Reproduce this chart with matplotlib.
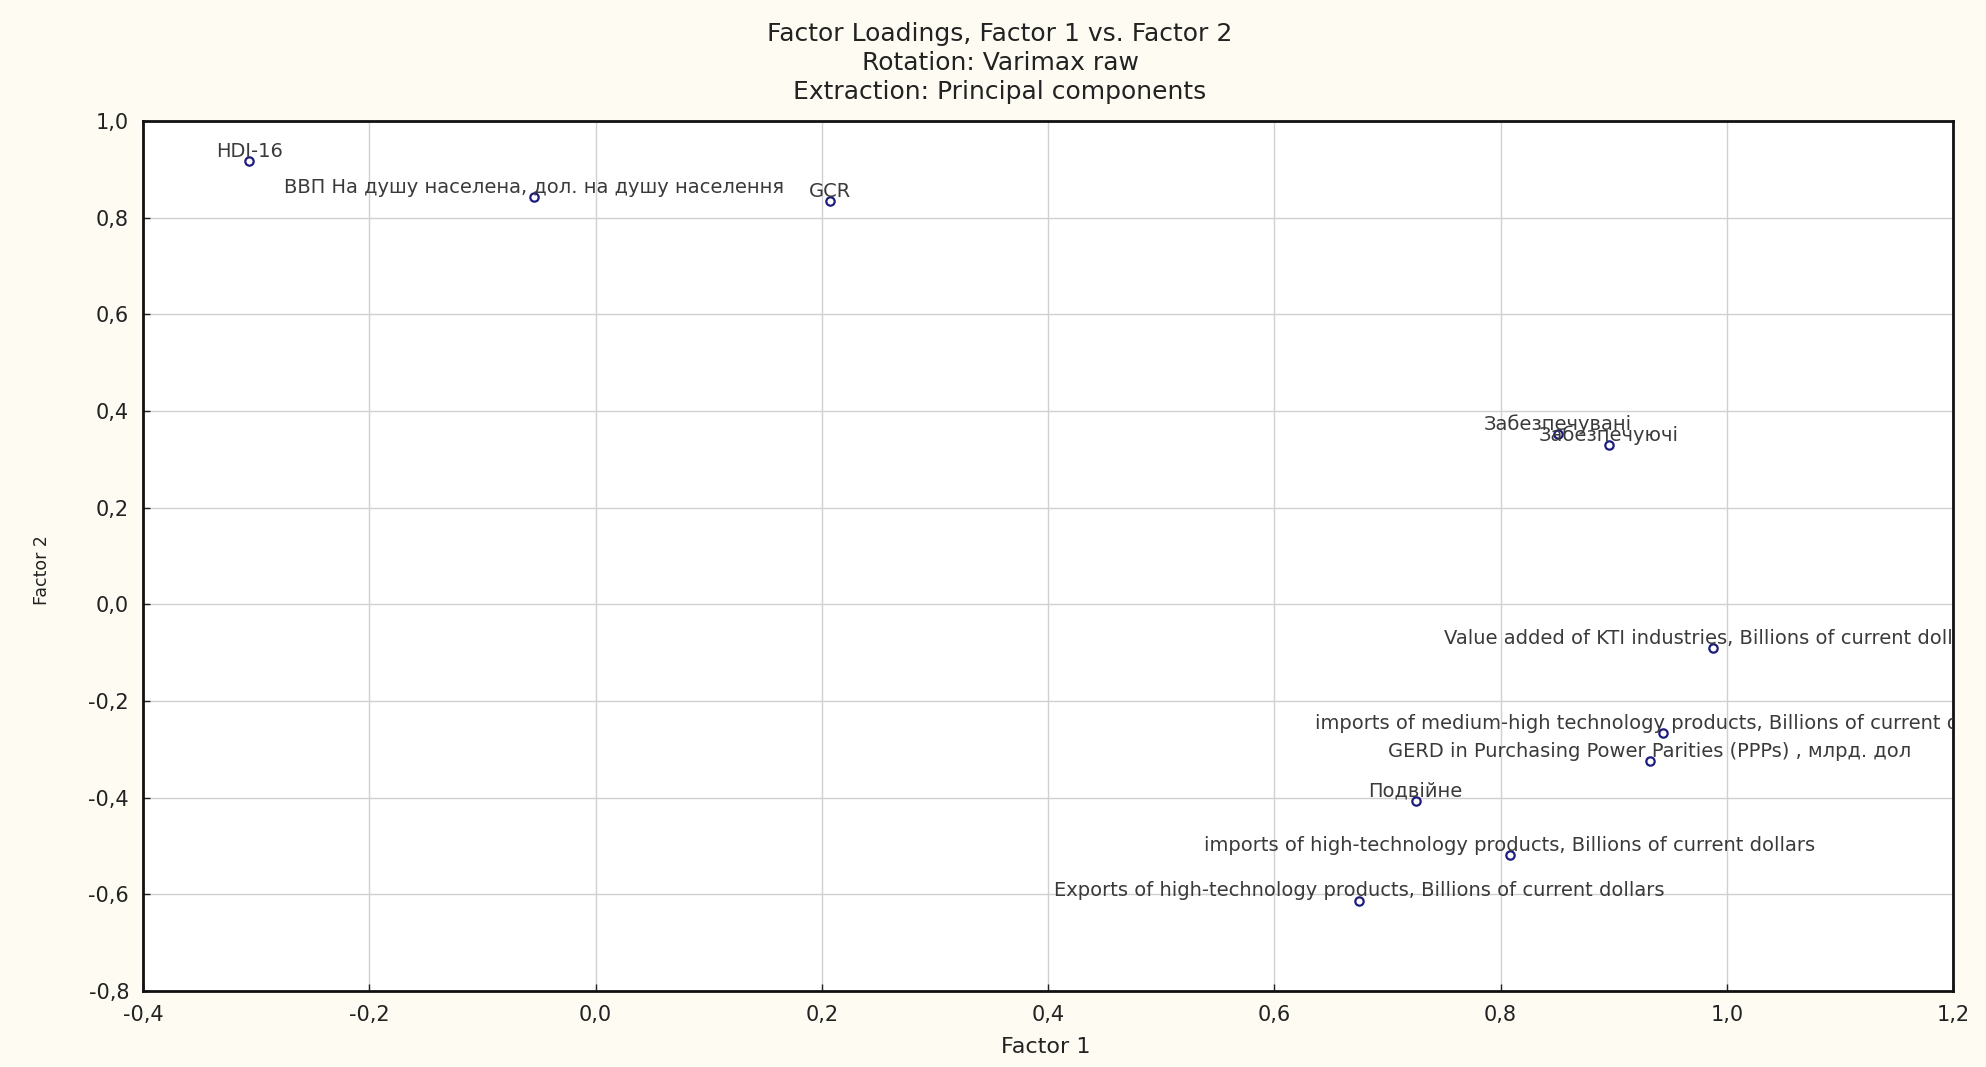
import matplotlib
matplotlib.use("Agg")
import matplotlib.pyplot as plt
from matplotlib.ticker import FuncFormatter, MultipleLocator

labels = [
    "HDI-16",
    "ВВП На душу населена, дол. на душу населення",
    "GCR",
    "Забезпечувані",
    "Забезпечуючі",
    "Value added of KTI industries, Billions of current dollars",
    "imports of medium-high technology products, Billions of current dollars",
    "GERD in Purchasing Power Parities (PPPs) , млрд. дол",
    "Подвійне",
    "imports of high-technology products, Billions of current dollars",
    "Exports of high-technology products, Billions of current dollars",
]
factor1 = [-0.306, -0.054, 0.207, 0.851, 0.896, 0.988, 0.944, 0.932, 0.725, 0.808, 0.675]
factor2 = [0.917, 0.842, 0.834, 0.352, 0.330, -0.091, -0.267, -0.325, -0.406, -0.519, -0.613]

title_lines = ["Factor Loadings, Factor 1 vs. Factor 2",
               "Rotation: Varimax raw",
               "Extraction: Principal components"]

plt.rcParams['font.family'] = ['DejaVu Sans']

fig = plt.figure(figsize=(19.86, 10.67), dpi=100, facecolor='#fdfbf2')
ax = fig.add_axes([143/1986, 1-991/1067, (1953-143)/1986, (991-121)/1067])
ax.set_facecolor('white')

ax.set_xlim(-0.4, 1.2)
ax.set_ylim(-0.8, 1.0)
ax.xaxis.set_major_locator(MultipleLocator(0.2))
ax.yaxis.set_major_locator(MultipleLocator(0.2))
fmt = FuncFormatter(lambda v, p: f"{v:.1f}".replace('.', ',').replace('-0,0', '0,0'))
ax.xaxis.set_major_formatter(fmt)
ax.yaxis.set_major_formatter(fmt)
ax.grid(True, color='#d0d0d0', linewidth=1.0)
ax.set_axisbelow(True)
ax.tick_params(direction='in', length=5, width=1, labelsize=15, colors='#222222', pad=10)
for s in ax.spines.values():
    s.set_linewidth(2)
    s.set_color('#111111')

ax.plot(factor1, factor2, linestyle='none', marker='o', markersize=6,
        markerfacecolor='none', markeredgecolor='#1c1c80', markeredgewidth=1.6, zorder=3)

for lab, x, y in zip(labels, factor1, factor2):
    ax.annotate(lab, (x, y), xytext=(0, 10), textcoords='offset pixels',
                ha='center', va='center', fontsize=14, color='#3a3a3a',
                annotation_clip=False, clip_on=True)

for i, t in enumerate(title_lines):
    fig.text(1000/1986, 1-(34+29*i)/1067, t, ha='center', va='center',
             fontsize=18, color='#222222')

fig.text(1046/1986, 1-1047/1067, "Factor 1", ha='center', va='center', fontsize=16, color='#222222')
fig.text(42/1986, 1-570/1067, "Factor 2", ha='center', va='center', rotation=90, fontsize=12.5, color='#222222')

fig.savefig("out.png", dpi=100, facecolor=fig.get_facecolor())
